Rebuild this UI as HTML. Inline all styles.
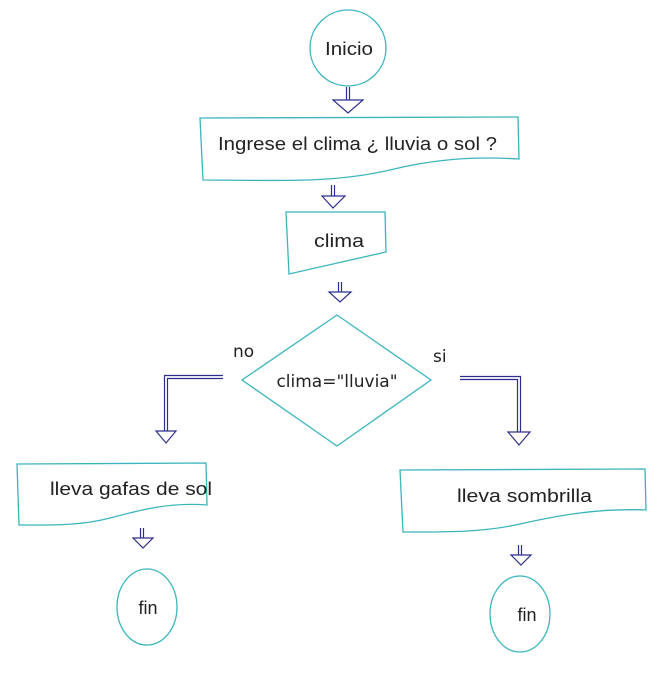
<!DOCTYPE html>
<html><head><meta charset="utf-8"><style>
html,body{margin:0;padding:0;background:#fff;}
svg{display:block;}
text{font-family:"Liberation Sans",sans-serif;fill:#222;}
</style></head><body>
<svg width="667" height="683" viewBox="0 0 667 683" xmlns="http://www.w3.org/2000/svg">
<g fill="none" stroke="#3bb5bd" stroke-width="1.3">
<circle cx="348" cy="48" r="38"/>
<path d="M200,118 L518,117 L519,159 C470,156 430,160 390,170 C330,184 270,180 203,180 Z"/>
<path d="M286,212 L385,212 L386,252 L289,274 Z"/>
<path d="M337,315 L431,380 L337,446 L242,380 Z"/>
<path d="M17,464 L206,463 L207,505 C170,502 140,510 110,518 C80,526 50,525 19,525 Z"/>
<path d="M400,470 L645,469 L646,510 C600,508 560,515 520,524 C480,533 440,532 403,532 Z"/>
<ellipse cx="147" cy="607" rx="30" ry="38"/>
<ellipse cx="520" cy="614" rx="30" ry="38"/>
</g>
<g fill="none" stroke="#2e2e8e" stroke-width="1.2">
<path d="M346.5,87 V100 M349.5,87 V100 M333,100 H363 L348,113 Z"/>
<path d="M331.5,185 V196 M334.5,185 V196 M322,196 H345 L333,208 Z"/>
<path d="M338.5,282 V292 M341.5,282 V292 M329,292 H351 L340,302 Z"/>
<path d="M223,375.5 H164.5 V431 M223,378.5 H167.5 V431 M156,431 H176 L166,443 Z"/>
<path d="M460,376.5 H520.5 V432 M460,379.5 H517.5 V432 M508,432 H530 L519,445 Z"/>
<path d="M140.5,528 V538 M143.5,528 V538 M133,538 H153 L143,548 Z"/>
<path d="M518.5,545 V555 M521.5,545 V555 M511,555 H531 L521,565 Z"/>
</g>
<text x="325" y="55" font-size="18" textLength="48" lengthAdjust="spacingAndGlyphs">Inicio</text>
<text x="218" y="150" font-size="18" textLength="279" lengthAdjust="spacingAndGlyphs">Ingrese el clima ¿ lluvia o sol ?</text>
<text x="314" y="247" font-size="18" textLength="50" lengthAdjust="spacingAndGlyphs">clima</text>
<text x="337" y="387" font-size="17" text-anchor="middle" style="font-family:'DejaVu Sans',sans-serif">clima="lluvia"</text>
<text x="233" y="357" font-size="17" style="font-family:'DejaVu Sans',sans-serif">no</text>
<text x="433" y="362" font-size="17" style="font-family:'DejaVu Sans',sans-serif">si</text>
<text x="50" y="495" font-size="18" textLength="162" lengthAdjust="spacingAndGlyphs">lleva gafas de sol</text>
<text x="457" y="502" font-size="18" textLength="135" lengthAdjust="spacingAndGlyphs">lleva sombrilla</text>
<text x="148" y="614" font-size="18" text-anchor="middle">fin</text>
<text x="527" y="621" font-size="18" text-anchor="middle">fin</text>
</svg>
</body></html>
